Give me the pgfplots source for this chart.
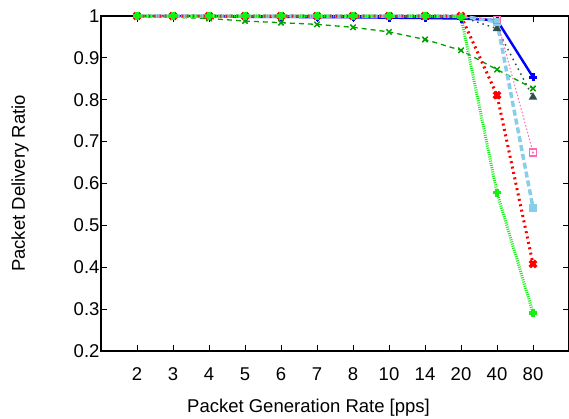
\documentclass[border=0pt]{standalone}
\usepackage{pgfplots}
\pgfplotsset{compat=1.18}
\usepackage{fontspec}
\setmainfont{Liberation Sans}
\definecolor{cblue}{RGB}{0,0,255}
\definecolor{cred}{RGB}{255,0,0}
\definecolor{clgreen}{RGB}{20,240,20}
\definecolor{cgreen}{RGB}{0,160,0}
\definecolor{csky}{RGB}{135,206,235}
\definecolor{cpink}{RGB}{255,105,180}
\definecolor{cslate}{RGB}{47,79,79}
\begin{document}
\begin{tikzpicture}[x=1pt,y=1pt]
\path[use as bounding box] (-101,-67) rectangle (468,351);
\begin{axis}[
  at={(0,0)}, anchor=south west,
  scale only axis, width=468pt, height=335pt,
  xmin=0, xmax=13, ymin=0.2, ymax=1,
  xtick={1,2,3,4,5,6,7,8,9,10,11,12},
  xticklabels={2,3,4,5,6,7,8,10,14,20,40,80},
  ytick={0.2,0.3,0.4,0.5,0.6,0.7,0.8,0.9,1},
  yticklabels={0.2,0.3,0.4,0.5,0.6,0.7,0.8,0.9,1},
  tick align=inside, major tick length=6pt,
  every tick/.style={black, line width=0.8pt},
  axis line style={line width=1.2pt},
  tick label style={font=\fontsize{18.5}{21}\selectfont},
  xticklabel style={yshift=-13pt},
  yticklabel style={xshift=2pt},
  xlabel={Packet Generation Rate [pps]},
  ylabel={Packet Delivery Ratio},
  every axis x label/.style={at={(axis description cs:0.4434,0)}, yshift=-57pt, anchor=center, font=\fontsize{18.5}{21}\selectfont},
  every axis y label/.style={at={(axis description cs:0,0.5)}, xshift=-81pt, rotate=90, anchor=center, font=\fontsize{18.5}{21}\selectfont},
  clip=false,
]
\addplot[cblue, line width=2.4pt, mark=+, mark size=4pt, mark options={solid, line width=3pt}]
 coordinates {(1,1)(2,1)(3,1)(4,0.998)(5,0.998)(6,0.997)(7,0.997)(8,0.996)(9,0.995)(10,0.994)(11,0.99)(12,0.854)};
\addplot[cslate, line width=1.5pt, dash pattern=on 1.5pt off 4pt, mark=triangle*, mark size=3.5pt, mark indices={11,12}, mark options={solid}]
 coordinates {(1,1)(2,1)(3,1)(4,1)(5,1)(6,1)(7,1)(8,1)(9,0.999)(10,0.998)(11,0.970)(12,0.806)};
\addplot[cgreen, line width=1.3pt, dash pattern=on 5pt off 4pt, mark=x, mark size=3.8pt, mark options={solid, line width=1.5pt}]
 coordinates {(1,0.998)(2,0.997)(3,0.994)(4,0.988)(5,0.984)(6,0.980)(7,0.973)(8,0.962)(9,0.944)(10,0.918)(11,0.872)(12,0.827)};
\addplot[csky, line width=3.5pt, dash pattern=on 6pt off 3pt, mark=square*, mark size=3.3pt, mark indices={11,12}, mark options={solid, line width=0.5pt}]
 coordinates {(1,1)(2,1)(3,1)(4,1)(5,1)(6,1)(7,1)(8,1)(9,1)(10,1)(11,0.986)(12,0.542)};
\addplot[cpink, line width=1pt, dash pattern=on 1.5pt off 2pt, mark=square, mark size=3.5pt, mark indices={11,12}, mark options={solid, line width=1.5pt}]
 coordinates {(1,1)(2,1)(3,1)(4,1)(5,1)(6,1)(7,1)(8,1)(9,1)(10,1)(11,0.99)(12,0.674)};
\addplot[cpink, only marks, mark=*, mark size=0.8pt]
 coordinates {(12,0.674)};
\addplot[cred, line width=3pt, dash pattern=on 2pt off 3.5pt, mark=x, mark size=4.5pt, mark options={solid, line width=3.5pt}]
 coordinates {(1,1)(2,1)(3,1)(4,1)(5,1)(6,1)(7,1)(8,1)(9,1)(10,1)(11,0.811)(12,0.408)};
\addplot[clgreen, line width=3pt, dash pattern=on 1pt off 1.2pt, mark=+, mark size=4pt, mark options={solid, line width=3.5pt}]
 coordinates {(1,1)(2,1)(3,1)(4,1)(5,1)(6,1)(7,1)(8,1)(9,1)(10,0.998)(11,0.578)(12,0.291)};
\end{axis}
\end{tikzpicture}
\end{document}
